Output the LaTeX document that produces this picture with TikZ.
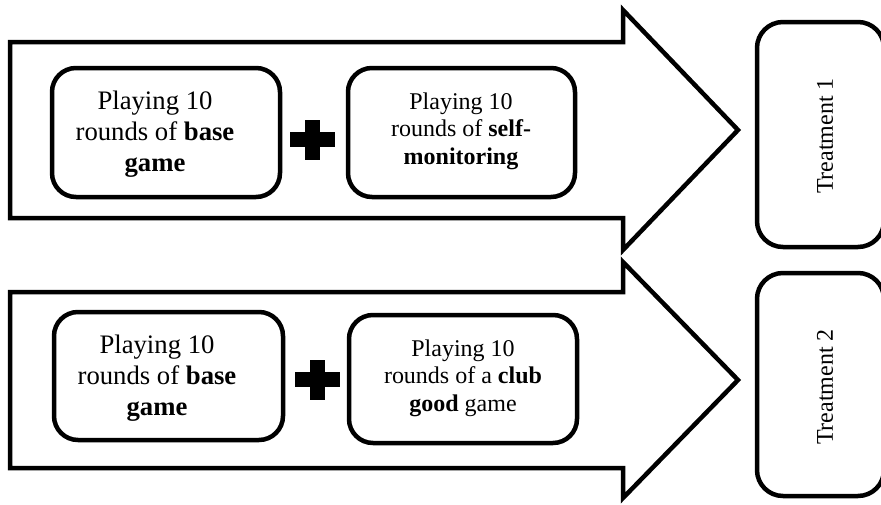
\documentclass[tikz,border=0pt]{standalone}
\usepackage{fontspec}
\setmainfont{Liberation Serif}
\begin{document}
\begin{tikzpicture}[x=1pt,y=-1pt,
  outline/.style={draw=black, line width=4.5pt, fill=white, line join=miter},
  stagebox/.style={draw=black, line width=4.5pt, fill=white, rounded corners=24pt, inner sep=0pt},
  resultbox/.style={draw=black, line width=4.5pt, fill=white, rounded corners=26pt, inner sep=0pt,
    minimum width=127pt, minimum height=225pt},
  txt/.style={align=center, inner sep=0pt},
  bigtext/.style={font=\fontsize{26.7}{31}\selectfont},
  smalltext/.style={font=\fontsize{24}{27.5}\selectfont},
  hbar/.style={fill=black, minimum width=45pt, minimum height=15pt, inner sep=0pt},
  vbar/.style={fill=black, minimum width=15pt, minimum height=40pt, inner sep=0pt},
]
\useasboundingbox (0,0) rectangle (881,504);

% block arrows
\draw[outline] (10,42) -- (623,42) -- (623,10) -- (738,130) -- (623,250)
  -- (623,218) -- (10,218) -- cycle;
\draw[outline] (10,292) -- (623,292) -- (623,262) -- (738,380) -- (623,498)
  -- (623,468) -- (10,468) -- cycle;

% first row
\node[stagebox, minimum width=228pt, minimum height=129pt] (base1) at (166,132.5) {};
\node[txt, bigtext] (base1t) at (155,134) {Playing 10\\rounds of \textbf{base}\\\textbf{game}};
\node[hbar] (plus1h) at (312,139.5) {};
\node[vbar] (plus1v) at (312,140) {};
\node[stagebox, minimum width=227pt, minimum height=129pt] (self1) at (461.5,132.5) {};
\node[txt, smalltext] (self1t) at (461,131) {Playing 10\\rounds of \textbf{self-}\\\textbf{monitoring}};
\node[resultbox] (treat1) at (820.5,134.5) {};
\node[txt, smalltext, rotate=90] (treat1t) at (825,136) {Treatment 1};

% second row
\node[stagebox, minimum width=229pt, minimum height=128pt] (base2) at (168.5,376) {};
\node[txt, bigtext] (base2t) at (157,378) {Playing 10\\rounds of \textbf{base}\\\textbf{game}};
\node[hbar] (plus2h) at (317.5,379.5) {};
\node[vbar] (plus2v) at (317.5,380) {};
\node[stagebox, minimum width=228pt, minimum height=128pt] (club2) at (463,379) {};
\node[txt, smalltext] (club2t) at (463,378) {Playing 10\\rounds of a \textbf{club}\\\textbf{good} game};
\node[resultbox, minimum height=223pt] (treat2) at (820.5,384.5) {};
\node[txt, smalltext, rotate=90] (treat2t) at (825,387) {Treatment 2};
\end{tikzpicture}
\end{document}
